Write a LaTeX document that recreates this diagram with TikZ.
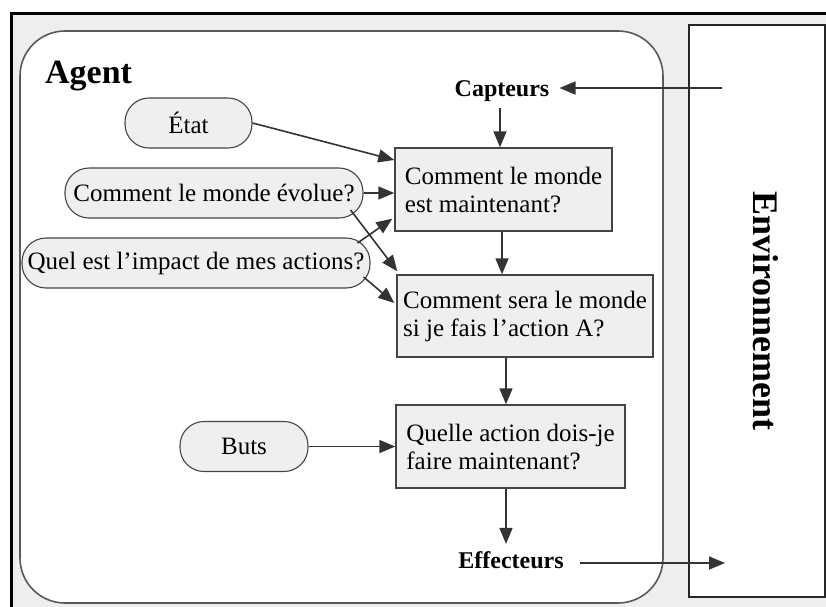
\documentclass[tikz,border=0pt]{standalone}
\usepackage{fontspec}
\setmainfont{Liberation Serif}
\usetikzlibrary{arrows.meta,calc}
\definecolor{bggray}{HTML}{EEEEEE}
\definecolor{boxgray}{HTML}{EFEFEF}
\definecolor{linegray}{HTML}{444444}
\tikzset{
  pbox/.style={draw=linegray, line width=1.4pt, fill=boxgray, align=left, inner xsep=0pt, inner ysep=0pt,
    minimum height=#1, font=\fontsize{25}{28}\selectfont},
  pill/.style={draw=linegray, line width=1.1pt, fill=boxgray, rounded corners=24pt, minimum height=50pt,
    inner sep=0pt, font=\fontsize{25}{28}\selectfont},
  lbl/.style={font=\fontsize{24}{26}\selectfont\bfseries, inner sep=0pt},
  arr/.style={draw=linegray, line width=1.6pt, -{Triangle[length=16pt,width=13pt]}, color=black!80},
}
\begin{document}
\begin{tikzpicture}[x=1pt,y=-1pt]
\useasboundingbox (0,0) rectangle (826,606);
\begin{scope}
\clip (0,0) rectangle (826,606);
\fill[white] (0,0) rectangle (826,606);
\draw[line width=3pt, fill=bggray] (11,13) rectangle (850,630);
\draw[fill=white, draw=black!65, line width=1.6pt, rounded corners=45pt] (20,31) rectangle (663,603);
\draw[fill=white, draw=black!85, line width=1.3pt] (689,25) rectangle (825,597);
\end{scope}

\node[lbl, font=\fontsize{34}{36}\selectfont\bfseries, anchor=base west] (agent) at (45,83) {Agent};
\node[font=\fontsize{36}{38}\selectfont\bfseries, rotate=-90, inner sep=0pt] (env) at (766,311) {Environnement};

\node[lbl, anchor=base] (capt) at (502,96) {Capteurs};
\node[lbl, anchor=base] (eff) at (511,568) {Effecteurs};

\node[pbox=83pt, minimum width=217pt] (box1) at (503.5,189.5) {Comment le monde\\est maintenant?};
\node[pbox=82pt, minimum width=256pt] (box2) at (525,316) {Comment sera le monde\\si je fais l’action A?};
\node[pbox=83pt, minimum width=229pt] (box3) at (510.5,446.5) {Quelle action dois-je\\faire maintenant?};

\node[pill, minimum width=127pt] (etat) at (188.5,123) {État};
\node[pill, minimum width=298pt] (evol) at (214,193) {Comment le monde évolue?};
\node[pill, minimum width=348pt] (impact) at (196,263) {Quel est l’impact de mes actions?};
\node[pill, minimum width=128pt] (buts) at (244,446.5) {Buts};

\coordinate (envin) at (722,88);
\coordinate (envout) at (725,563);
\coordinate (effstart) at (580,563);

\draw[arr] (envin) -- ([xshift=10pt]capt.east |- envin);
\draw[arr] ([shift={(-2pt,-7pt)}]capt.south) -- ([xshift=-2pt]capt.south |- box1.north);
\draw[arr] ([xshift=-1.5pt]box1.south) -- ([xshift=-1.5pt]box1.south |- box2.north);
\draw[arr] ([xshift=-4.5pt]box3.north |- box2.south) -- ([xshift=-4.5pt]box3.north);
\draw[arr] ([xshift=-4.5pt]box3.south) -- ([xshift=-4.5pt,yshift=7pt]box3.south |- eff.north);
\draw[arr] (effstart) -- (envout);

\draw[arr] (etat.east) -- ([yshift=29.5pt]box1.west);
\draw[arr] (evol.east) -- (box1.west |- evol.east);
\draw[arr] ([shift={(-13pt,-17pt)}]evol.east) -- ([shift={(1pt,3pt)}]box2.north west);
\draw[arr] ([shift={(-13pt,20pt)}]impact.east) -- ([shift={(-2pt,13pt)}]box1.south west);
\draw[arr] ([shift={(-7pt,-14pt)}]impact.east) -- ([shift={(-2pt,13pt)}]box2.west);
\draw[arr] (buts.east) -- (box3.west |- buts.east);
\end{tikzpicture}
\end{document}
